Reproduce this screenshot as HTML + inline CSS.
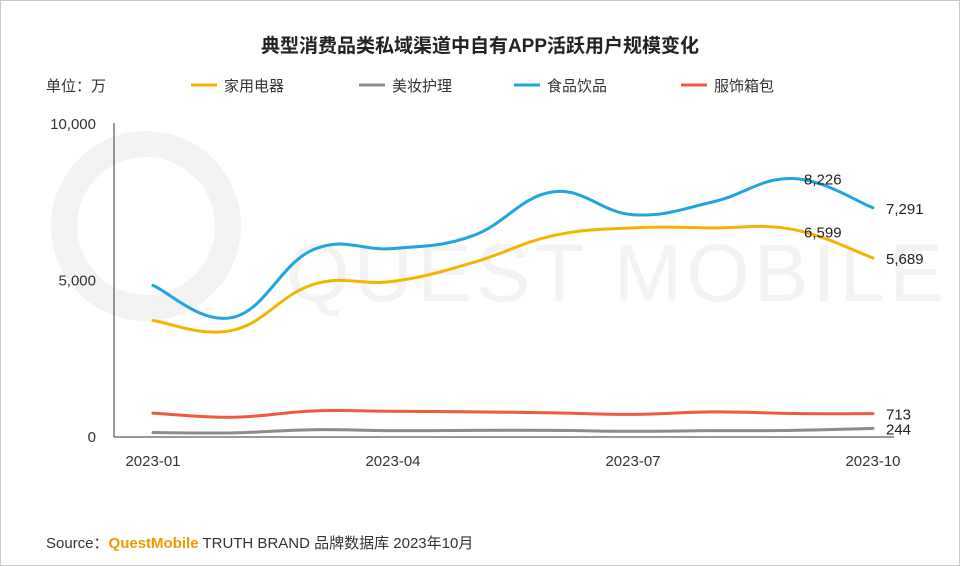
<!DOCTYPE html>
<html><head><meta charset="utf-8"><style>
body{margin:0;background:#fff;font-family:"Liberation Sans","Noto Sans CJK SC",sans-serif;}
#wrap{position:relative;width:958px;height:564px;border:1px solid #c8c8c8;overflow:hidden;}
</style></head><body>
<div id="wrap">
<svg id="chart" width="958" height="564"></svg>
</div>
<script>
const months=["2023-01","2023-02","2023-03","2023-04","2023-05","2023-06","2023-07","2023-08","2023-09","2023-10"];
const xTickLabels=["2023-01","2023-04","2023-07","2023-10"];
const yTicks=[0,5000,10000];
const seriesNames=["家用电器","美妆护理","食品饮品","服饰箱包"];
const appliances=[3690,3380,4840,4940,5540,6400,6650,6650,6599,5689];
const beauty=[110,100,200,170,180,180,150,170,180,244];
const food=[4810,3790,5950,5990,6400,7800,7070,7480,8226,7291];
const apparel=[730,600,800,790,770,740,690,770,720,713];
const colors=["#f5b400","#8c8c8c","#1fa5e0","#ee5a3c"];
const NS="http://www.w3.org/2000/svg";
const svg=document.getElementById('chart');
function el(t,a,txt){const e=document.createElementNS(NS,t);for(const k in a)e.setAttribute(k,a[k]);if(txt!==undefined)e.textContent=txt;svg.appendChild(e);return e;}
const x=i=>152+i*80;
const y=v=>435-v*0.0313;
const FONT='"Liberation Sans","Noto Sans CJK SC",sans-serif';
let w=el('text',{x:285,y:300,'font-size':82,fill:'#f3f3f3','font-family':FONT,'letter-spacing':4});w.textContent='QUEST MOBILE';

let wc=el('circle',{cx:145,cy:225,r:82,fill:'none',stroke:'#f3f3f3','stroke-width':26});

let t=el('text',{x:479,y:51,'text-anchor':'middle','font-size':19,'font-weight':'bold',fill:'#222','font-family':FONT},'典型消费品类私域渠道中自有APP活跃用户规模变化');

let u=el('text',{x:45,y:90,'font-size':15,fill:'#333','font-family':FONT},'单位：万');

const legX=[190,358,513,680];
seriesNames.forEach((n,i)=>{
  const g=document.createElementNS(NS,'g');svg.appendChild(g);
  
  
  const l=document.createElementNS(NS,'line');
  l.setAttribute('x1',legX[i]);l.setAttribute('x2',legX[i]+26);l.setAttribute('y1',84);l.setAttribute('y2',84);
  l.setAttribute('stroke',colors[i]);l.setAttribute('stroke-width',3);g.appendChild(l);
  const tx=document.createElementNS(NS,'text');
  tx.setAttribute('x',legX[i]+33);tx.setAttribute('y',90);tx.setAttribute('font-size',15);tx.setAttribute('fill','#333');tx.setAttribute('font-family',FONT);
  tx.textContent=n;g.appendChild(tx);
});
let ya=el('line',{x1:113,x2:113,y1:y(10000),y2:436,stroke:'#333','stroke-width':1});

let xa=el('line',{x1:113,x2:893,y1:436,y2:436,stroke:'#333','stroke-width':1});

yTicks.forEach(v=>{
  const tt=el('text',{x:95,y:y(v)+6,'text-anchor':'end','font-size':15,fill:'#333','font-family':FONT},v.toLocaleString('en-US'));
  
});
xTickLabels.forEach(m=>{
  const i=months.indexOf(m);
  const tt=el('text',{x:x(i),y:465,'text-anchor':'middle','font-size':15,fill:'#333','font-family':FONT},m);
  
});
function smooth(vals){
  const p=vals.map((v,i)=>[x(i),y(v)]);
  let d='M'+p[0][0]+','+p[0][1];
  for(let i=0;i<p.length-1;i++){
    const p0=p[i-1]||p[i],p1=p[i],p2=p[i+1],p3=p[i+2]||p2;
    const t=0.2;
    const c1=[p1[0]+(p2[0]-p0[0])*t,p1[1]+(p2[1]-p0[1])*t];
    const c2=[p2[0]-(p3[0]-p1[0])*t,p2[1]-(p3[1]-p1[1])*t];
    d+=' C'+c1+' '+c2+' '+p2;
  }
  return d;
}
const all=[appliances,beauty,food,apparel];
const names=['line-appliances','line-beauty','line-food','line-apparel'];
all.forEach((s,i)=>{
  const p=el('path',{d:smooth(s),fill:'none',stroke:colors[i],'stroke-width':3,'stroke-linecap':'round'});
  
});
function lbl(v,i,dx,dy){
  const tt=el('text',{x:x(i)+dx,y:y(v)+dy,'text-anchor':'start','font-size':15,fill:'#222','font-family':FONT},v.toLocaleString('en-US'));
  
}
lbl(food[8],8,11,6);lbl(food[9],9,13,6);
lbl(appliances[8],8,11,8);lbl(appliances[9],9,13,6);
lbl(apparel[9],9,13,6);lbl(beauty[9],9,13,6);
let s=el('text',{x:45,y:547,'font-size':15,fill:'#333','font-family':FONT});

s.innerHTML='Source：<tspan fill="#f39800" font-weight="bold">QuestMobile</tspan> TRUTH BRAND 品牌数据库 2023年10月';
</script>
</body></html>
